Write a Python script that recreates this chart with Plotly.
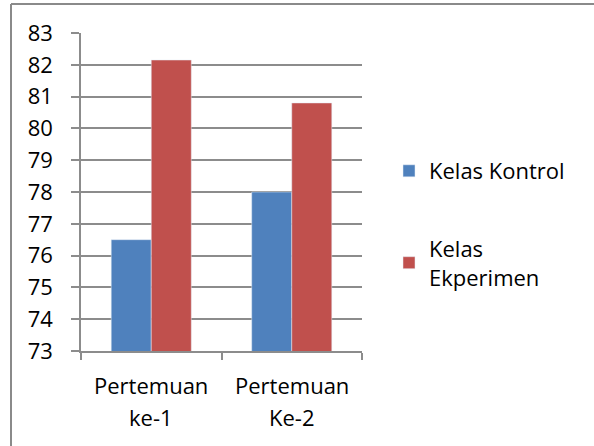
import plotly.graph_objects as go

categories = ["Pertemuan ke-1", "Pertemuan Ke-2"]
label_line1 = ["Pertemuan", "Pertemuan"]
label_line2 = ["ke-1", "Ke-2"]
kontrol = [76.5, 78.0]
eksperimen = [82.15, 80.8]
series_names = ["Kelas Kontrol", "Kelas<br>Ekperimen"]
y_ticks = list(range(73, 84))

FONT = "Open Sans, sans-serif"
FS = 22
W, H = 594, 446
L, R, T, B = 81, 362, 33, 351

fig = go.Figure()
fig.add_trace(go.Bar(x=categories, y=kontrol, name=series_names[0],
                     marker_color="#4F81BD", legendgroup="a"))
fig.add_trace(go.Bar(x=categories, y=eksperimen, name=series_names[1],
                     marker_color="#C0504D", legendgroup="b"))

annotations = []
for c, l1, l2 in zip(categories, label_line1, label_line2):
    annotations.append(dict(x=c, xref="x", y=(B - 385) / (B - T), yref="paper",
                            text=l1, showarrow=False, yanchor="middle",
                            font=dict(size=FS, family=FONT, color="#000")))
    annotations.append(dict(x=c, xref="x", y=(B - 417) / (B - T), yref="paper",
                            text=l2, showarrow=False, yanchor="middle",
                            font=dict(size=FS, family=FONT, color="#000")))

def px_x(p):
    return (p - L) / (R - L)

def px_y(p):
    return (B - p) / (B - T)

shapes = [
    dict(type="line", xref="paper", yref="paper", x0=px_x(11), x1=px_x(11),
         y0=px_y(4), y1=px_y(460), line=dict(color="#8a8a8a", width=2)),
    dict(type="line", xref="paper", yref="paper", x0=px_x(11), x1=px_x(610),
         y0=px_y(4), y1=px_y(4), line=dict(color="#8a8a8a", width=2)),
]

fig.update_layout(
    width=W, height=H,
    margin=dict(l=L, r=W - R, t=T, b=H - B),
    paper_bgcolor="white", plot_bgcolor="white",
    font=dict(family=FONT, size=FS, color="#000"),
    barmode="group", bargap=0.43, bargroupgap=0,
    showlegend=True,
    legend=dict(x=px_x(389), xanchor="left", y=px_y(150), yanchor="top",
                traceorder="grouped", tracegroupgap=46,
                font=dict(size=FS, family=FONT, color="#000"),
                bgcolor="rgba(0,0,0,0)"),
    annotations=annotations,
    shapes=shapes,
)
fig.update_yaxes(range=[73, 83], tickvals=y_ticks, showgrid=True,
                 gridcolor="#8c8c8c", gridwidth=1.5,
                 showline=True, linecolor="#8c8c8c", linewidth=1.5,
                 ticks="outside", ticklen=8, tickcolor="#8c8c8c", tickwidth=1.5,
                 ticklabelstandoff=14, zeroline=False)
fig.update_xaxes(showticklabels=False, showline=True, linecolor="#8c8c8c",
                 linewidth=1.5, ticks="outside", ticklen=7, tickcolor="#8c8c8c",
                 tickwidth=1.5, tickson="boundaries", showgrid=False)

fig.write_html("out.html",
               config={"displayModeBar": False},
               post_script="document.body.style.margin='0';"
                           "document.body.style.overflow='hidden';")
